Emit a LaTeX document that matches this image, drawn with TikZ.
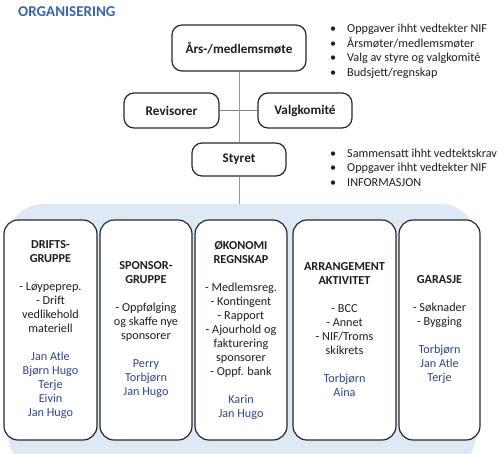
\documentclass[tikz,border=0pt]{standalone}
\usepackage{fontspec}
\setmainfont{Carlito}
\definecolor{titlec}{RGB}{59,99,170}
\definecolor{namec}{RGB}{46,70,132}
\definecolor{bgc}{RGB}{221,234,246}
\definecolor{linec}{RGB}{110,160,220}
\definecolor{boxc}{RGB}{40,40,40}
\definecolor{txtc}{RGB}{30,30,30}
\newcommand{\nm}[1]{\textcolor{namec}{#1}}
\begin{document}
\begin{tikzpicture}[x=1pt,y=-1pt,
  box/.style={draw=boxc, line width=1.2pt, rounded corners=10pt, fill=white, align=center, inner sep=0pt, text=txtc},
  topbox/.style={box, font=\fontsize{13.2}{15}\selectfont\bfseries},
  colbox/.style={draw=boxc, line width=1.2pt, rounded corners=14pt, fill=white, align=center, inner sep=0pt, text=txtc, minimum height=220pt, font=\fontsize{12.2}{14}\selectfont},
  bullets/.style={align=left, inner sep=0pt, anchor=north west, text=txtc, font=\fontsize{12.2}{14.5}\selectfont},
  vline/.style={draw=linec, line width=0.8pt},
  hline/.style={draw=gray, line width=0.8pt}
]
\useasboundingbox (0,0) rectangle (500,453);
% background panel
\fill[bgc, rounded corners=35pt] (8,204) rectangle (476,470);
% title
\node[anchor=west, inner sep=0pt, text=titlec, font=\fontsize{15}{18}\selectfont\bfseries] (title) at (18,12) {ORGANISERING};
% top nodes
\node[topbox, minimum width=134pt, minimum height=46pt] (aars) at (239,48) {Års-/medlemsmøte};
\node[topbox, minimum width=95pt, minimum height=35pt] (rev) at (171.5,110.5) {Revisorer};
\node[topbox, minimum width=94pt, minimum height=35pt] (val) at (305,110.5) {Valgkomité};
\node[topbox, minimum width=94pt, minimum height=33pt] (sty) at (239,159.5) {Styret};
\coordinate (bgtop) at (239,204);
% connectors
\draw[hline] (rev) -- (val);
\draw[vline] (aars) -- (sty);
\draw[vline] (sty) -- (bgtop);
% bullet lists
\node[bullets] (list1) at (330,24) {\makebox[17pt][l]{•}Oppgaver ihht vedtekter NIF\\
\makebox[17pt][l]{•}Årsmøter/medlemsmøter\\
\makebox[17pt][l]{•}Valg av styre og valgkomité\\
\makebox[17pt][l]{•}Budsjett/regnskap};
\node[bullets] (list2) at (330,148.5) {\makebox[17pt][l]{•}Sammensatt ihht vedtektskrav\\
\makebox[17pt][l]{•}Oppgaver ihht vedtekter NIF\\
\makebox[17pt][l]{•}INFORMASJON};
% column boxes
\node[colbox, minimum width=93pt] (drift) at (50.5,330) {\textbf{DRIFTS-}\\ \textbf{GRUPPE}\\[14pt]
- Løypeprep.\\ - Drift\\ vedlikehold\\ materiell\\[14pt]
\nm{Jan Atle}\\ \nm{Bjørn Hugo}\\ \nm{Terje}\\ \nm{Eivin}\\ \nm{Jan Hugo}};
\node[colbox, minimum width=92pt] (spons) at (146,330) {\textbf{SPONSOR-}\\ \textbf{GRUPPE}\\[14pt]
- Oppfølging\\ og skaffe nye\\ sponsorer\\[14pt]
\nm{Perry}\\ \nm{Torbjørn}\\ \nm{Jan Hugo}};
\node[colbox, minimum width=92pt] (okon) at (241,330) {\textbf{ØKONOMI}\\ \textbf{REGNSKAP}\\[14pt]
- Medlemsreg.\\ - Kontingent\\ - Rapport\\ - Ajourhold og\\ fakturering\\ sponsorer\\ - Oppf. bank\\[14pt]
\nm{Karin}\\ \nm{Jan Hugo}};
\node[colbox, minimum width=103pt] (arr) at (344.5,330) {\textbf{ARRANGEMENT}\\ \textbf{AKTIVITET}\\[14pt]
- BCC\\ - Annet\\ - NIF/Troms\\ skikrets\\[14pt]
\nm{Torbjørn}\\ \nm{Aina}};
\node[colbox, minimum width=81pt] (gar) at (439.5,330) {\textbf{GARASJE}\\[14pt]
- Søknader\\ - Bygging\\[14pt]
\nm{Torbjørn}\\ \nm{Jan Atle}\\ \nm{Terje}};
\end{tikzpicture}
\end{document}
